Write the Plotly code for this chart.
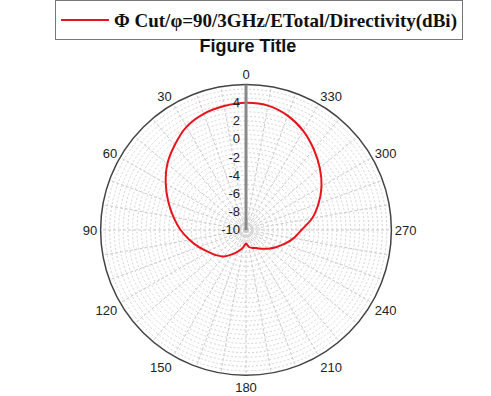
import plotly.graph_objects as go

theta_deg = [0, 10, 20, 30, 40, 50, 60, 70, 80, 90, 100, 110, 120, 130, 140, 150, 160, 170, 180,
             190, 200, 210, 220, 230, 240, 250, 260, 270, 280, 290, 300, 310, 320, 330, 340, 350, 360]
directivity_dbi = [4.0, 3.85, 3.6, 3.1, 2.2, 1.3, 0.2, -0.9, -1.9, -2.8, -3.7, -4.5, -5.2, -5.7, -6.2,
                   -6.9, -7.5, -8.0, -8.5, -8.1, -7.9, -7.7, -7.3, -6.8, -6.2, -5.5, -4.7, -3.9, -2.6,
                   -1.5, -0.4, 0.6, 1.6, 2.6, 3.4, 3.9, 4.0]
series_name = "<b>Φ Cut/φ=90/3GHz/ETotal/Directivity(dBi)</b>"

angle_ticks = list(range(0, 360, 10))
angle_labels = [str(a) if a % 30 == 0 else "" for a in angle_ticks]
r_ticks = [v / 2 for v in range(-20, 12)]
r_labels = [str(int(v)) if (v % 2 == 0 and v <= 4) else "" for v in r_ticks]

fig = go.Figure()
fig.add_trace(go.Scatterpolar(
    r=directivity_dbi, theta=theta_deg, mode="lines",
    line=dict(color="#e8141c", width=2, shape="spline", smoothing=0.8),
    name=series_name, showlegend=True,
))

W, H = 491, 396
cx, cy, R = 246, 227, 148
fig.update_layout(
    width=W, height=H,
    margin=dict(l=0, r=0, t=0, b=0),
    paper_bgcolor="white",
    title=dict(text="<b>Figure Title</b>", x=0.505, xanchor="center", y=1 - 46 / H, yanchor="middle",
               font=dict(family="Liberation Sans, Arial", size=18, color="#111")),
    legend=dict(x=55 / W, xanchor="left", y=1 + 7 / H, yanchor="top",
                bordercolor="#777", borderwidth=1, bgcolor="white",
                font=dict(family="Liberation Serif, Times New Roman", size=19, color="#111"),
                itemwidth=48),
    polar=dict(
        domain=dict(x=[(cx - R) / W, (cx + R) / W], y=[1 - (cy + R) / H, 1 - (cy - R) / H]),
        bgcolor="white",
        angularaxis=dict(
            rotation=90, direction="counterclockwise",
            tickmode="array", tickvals=angle_ticks, ticktext=angle_labels,
            showline=True, linecolor="#444", linewidth=1.5,
            gridcolor="#c8c8c8", griddash="3px,2px", gridwidth=1,
            ticks="", tickfont=dict(family="Liberation Sans, Arial", size=13, color="#222"),
        ),
        radialaxis=dict(
            range=[-10, 6], angle=90, side="counterclockwise",
            tickmode="array", tickvals=r_ticks, ticktext=r_labels,
            showline=True, linecolor="#888", linewidth=3,
            gridcolor="#d4d4d4", griddash="2px,2px", gridwidth=1,
            ticks="", tickangle=90,
            tickfont=dict(family="Liberation Sans, Arial", size=13, color="#222"),
        ),
    ),
)

fig.write_html("out.html", config={"displayModeBar": False},
               post_script="document.body.style.margin='0';")
